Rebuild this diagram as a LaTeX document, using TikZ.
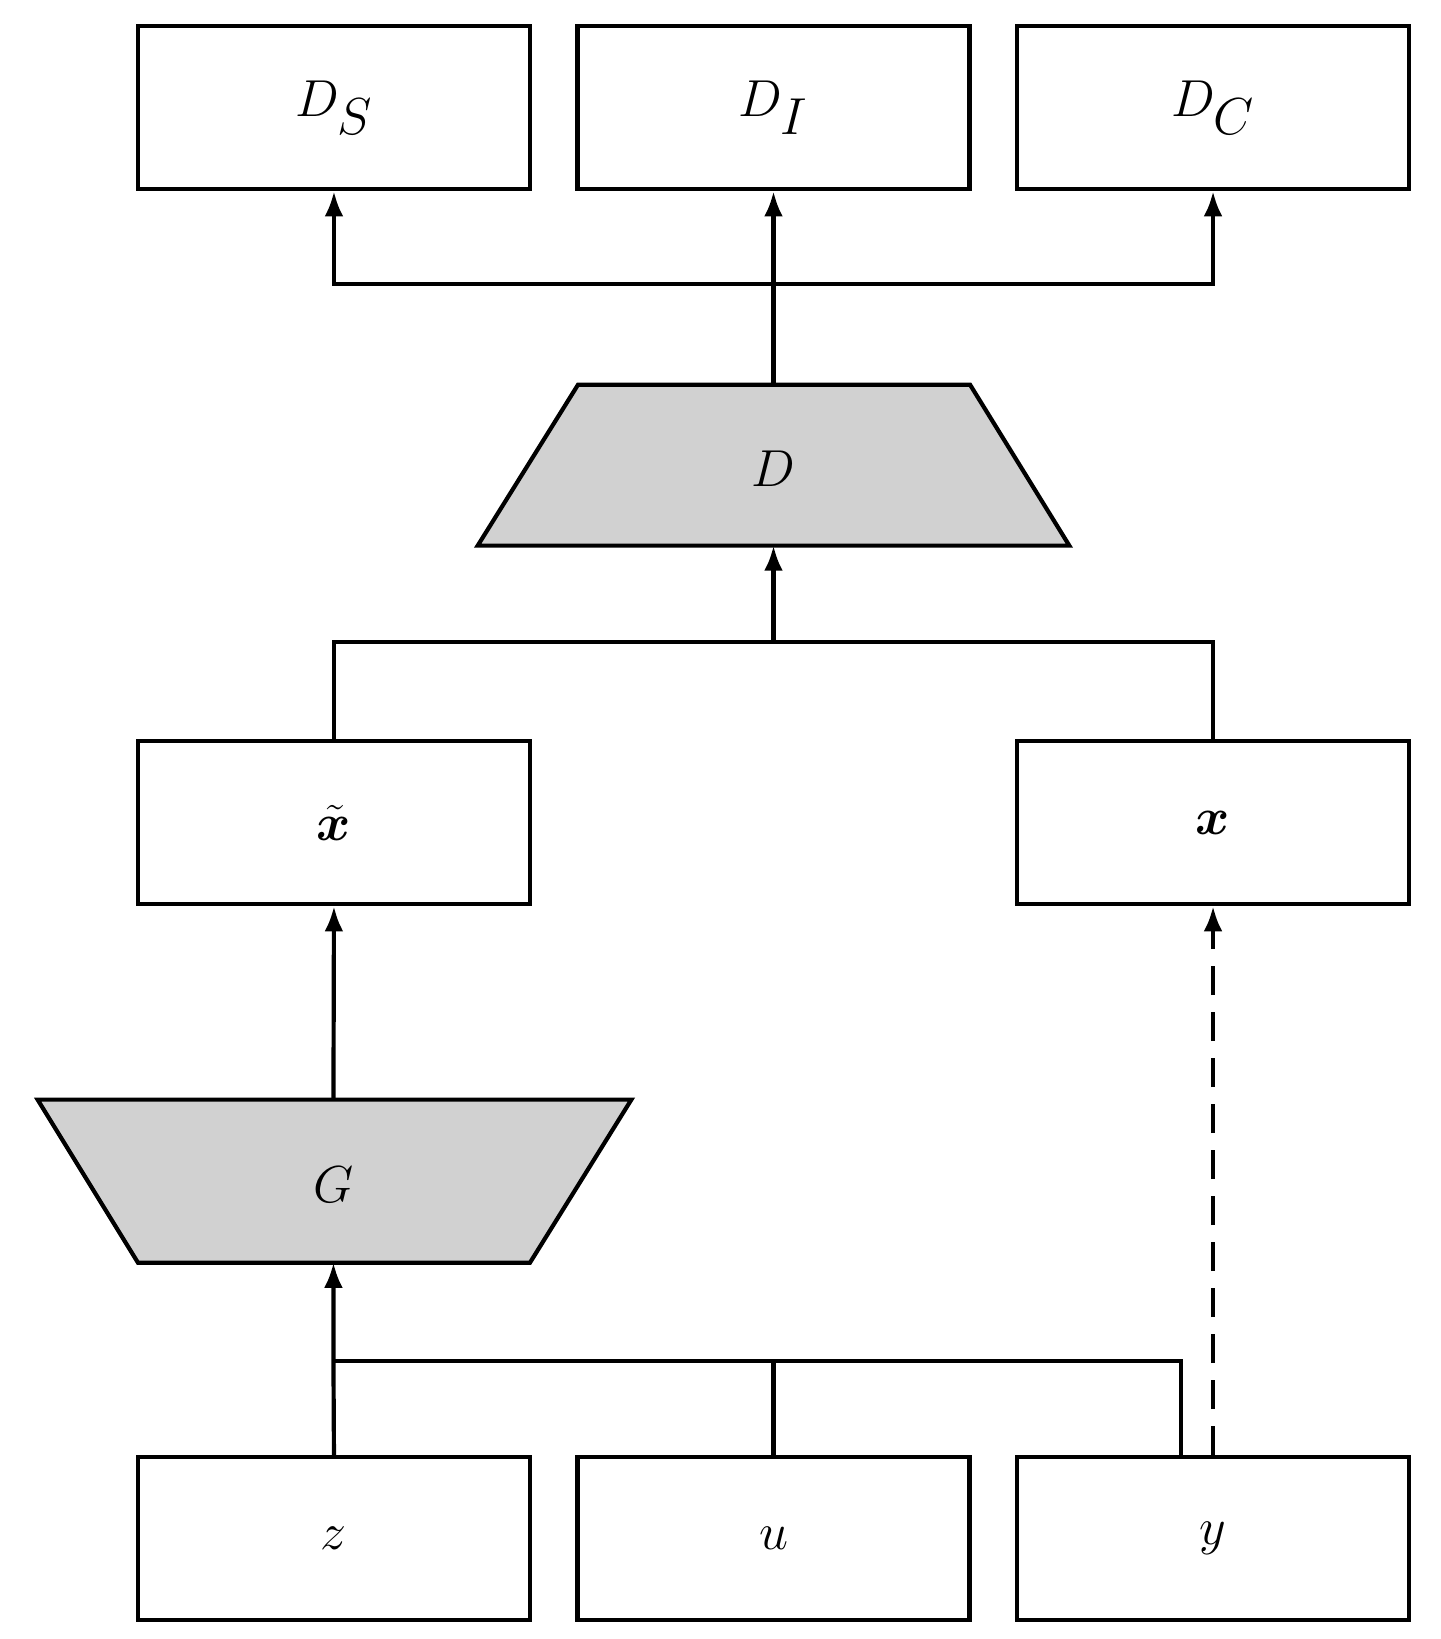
\documentclass[tikz,border=0pt]{standalone}
\usepackage{amsmath,bm}
\usetikzlibrary{arrows.meta}
\begin{document}
\begin{tikzpicture}[x=0.5pt,y=-0.5pt,line width=2pt,
  box/.style={draw,line width=2pt,minimum width=187.5pt,minimum height=78pt,inner sep=0pt,font=\fontsize{36}{40}\selectfont},
  arr/.style={-{Latex[length=12pt,width=9pt]}},
  lbl/.style={font=\fontsize{36}{40}\selectfont}]
\useasboundingbox (0,0) rectangle (1378,1568);
\node[box] (ds) at (319.5,103) {$D_S$};
\node[box] (di) at (740,103) {$D_I$};
\node[box] (dc) at (1160.5,103) {$D_C$};
\node[box] (xt) at (319.5,787) {$\tilde{\bm{x}}$};
\node[box] (xr) at (1160.5,787) {$\bm{x}$};
\node[box] (z) at (319.5,1472) {$z$};
\node[box] (u) at (740,1472) {$u$};
\node[box] (y) at (1160.5,1472) {$y$};
\draw[fill=black!18] (553,368) -- (928,368) -- (1023,522) -- (457,522) -- cycle;
\node[lbl] (D) at (740,448) {$D$};
\draw[fill=black!18] (36,1052) -- (604,1052) -- (507,1208) -- (132,1208) -- cycle;
\node[lbl] (G) at (319,1133) {$G$};
\coordinate (dtop) at (740,368);
\coordinate (dbot) at (740,522);
\coordinate (gtop) at (319,1052);
\coordinate (gbot) at (319,1208);
\coordinate (j1) at (740,272);
\draw (dtop) -- (j1);
\draw[arr] (j1) -- (di.south);
\draw[arr] (j1) -| (ds.south);
\draw[arr] (j1) -| (dc.south);
\coordinate (j2) at (740,614);
\draw[arr] (j2) -- (dbot);
\draw (xt.north) |- (j2) -| (xr.north);
\draw[arr] (gtop) -- (xt.south);
\coordinate (j3) at (319,1302);
\draw[arr] (z.north) -- (j3) -- (gbot);
\draw (u.north) -- (740,1302);
\draw (1130,1393) -- (1130,1302) -- (j3);
\draw[arr,dash pattern=on 14pt off 8pt] (y.north) -- (xr.south);
\end{tikzpicture}
\end{document}
